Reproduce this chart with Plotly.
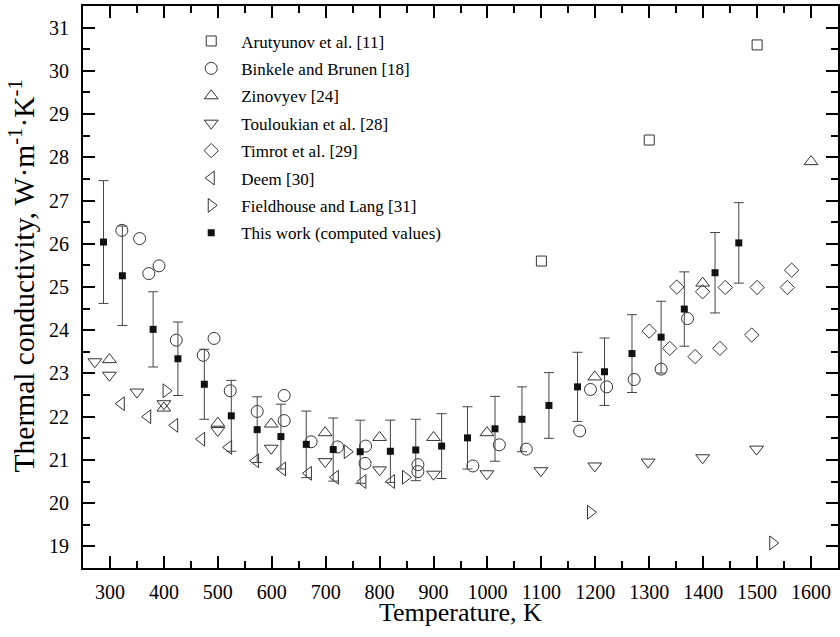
import plotly.graph_objects as go

# ---- data ----
aru_T = [1100, 1300, 1500]
aru_k = [25.6, 28.4, 30.6]

bink_T = [322, 355, 372, 391, 423, 473, 493, 523, 573, 623, 623, 673, 722, 774, 773,
          871, 871, 973, 1022, 1072, 1171, 1191, 1221, 1272, 1322, 1371]
bink_k = [26.31, 26.12, 25.31, 25.49, 23.77, 23.42, 23.81, 22.60, 22.12, 22.49, 21.91,
          21.42, 21.30, 21.32, 20.92, 20.89, 20.73, 20.86, 21.35, 21.25, 21.67, 22.63,
          22.69, 22.86, 23.10, 24.27]

zin_T = [299, 400, 500, 599, 699, 800, 900, 999, 1199, 1399, 1600]
zin_k = [23.32, 22.20, 21.85, 21.83, 21.63, 21.52, 21.52, 21.63, 22.92, 25.09, 27.90]

tou_T = [272, 299, 350, 400, 500, 599, 699, 800, 900, 999, 1099, 1199, 1298, 1399, 1499]
tou_k = [23.27, 22.96, 22.57, 22.30, 21.68, 21.27, 20.96, 20.77, 20.67, 20.68, 20.75,
         20.86, 20.95, 21.05, 21.25]

tim_T = [1300, 1338, 1351, 1385, 1399, 1431, 1441, 1490, 1500, 1556, 1564]
tim_k = [23.98, 23.58, 25.00, 23.39, 24.89, 23.58, 24.99, 23.89, 24.99, 24.99, 25.39]

deem_T = [321, 370, 420, 470, 520, 570, 620, 668, 718, 769, 822]
deem_k = [22.30, 22.00, 21.80, 21.48, 21.29, 20.98, 20.79, 20.69, 20.60, 20.50, 20.50]

field_T = [404, 740, 848, 1191, 1529]
field_k = [22.60, 21.19, 20.60, 19.79, 19.08]

this_T = [288, 323, 380, 426, 475, 525, 573, 617, 664, 714, 764, 820, 867, 915, 963,
          1014, 1064, 1114, 1167, 1217, 1268, 1322, 1365, 1422, 1466]
this_k = [26.04, 25.26, 24.02, 23.34, 22.75, 22.02, 21.70, 21.54, 21.36, 21.24, 21.19,
          21.20, 21.23, 21.32, 21.51, 21.72, 21.94, 22.26, 22.69, 23.04, 23.46, 23.84,
          24.49, 25.33, 26.02]
this_err = [1.42, 1.15, 0.87, 0.85, 0.81, 0.82, 0.76, 0.75, 0.77, 0.73, 0.73, 0.72,
            0.71, 0.75, 0.72, 0.75, 0.75, 0.76, 0.80, 0.78, 0.90, 0.83, 0.86, 0.93, 0.93]

names = ["Arutyunov et al. [11]", "Binkele and Brunen [18]", "Zinovyev [24]",
         "Touloukian et al. [28]", "Timrot et al. [29]", "Deem [30]",
         "Fieldhouse and Lang [31]", "This work (computed values)"]
x_title = "Temperature, K"
y_title = "Thermal conductivity, W·m<sup>-1</sup>·K<sup>-1</sup>"

FONT = "Liberation Serif"
MC = "#333333"

fig = go.Figure()

series = [
    (aru_T, aru_k, "square-open", 10),
    (bink_T, bink_k, "circle-open", 12),
    (zin_T, zin_k, "triangle-up-open", 12),
    (tou_T, tou_k, "triangle-down-open", 12),
    (tim_T, tim_k, "diamond-open", 11),
    (deem_T, deem_k, "triangle-left-open", 12),
    (field_T, field_k, "triangle-right-open", 12),
]
for i, (xs, ys, sym, sz) in enumerate(series):
    fig.add_trace(go.Scatter(
        x=xs, y=ys, mode="markers", name=names[i], legendgroup=f"g{i}",
        marker=dict(symbol=sym, size=sz, color=MC, line=dict(color=MC, width=1)),
    ))

fig.add_trace(go.Scatter(
    x=this_T, y=this_k, mode="markers", name=names[7], legendgroup="g7",
    marker=dict(symbol="square", size=7, color="#111111"),
    error_y=dict(type="data", array=this_err, visible=True,
                 color="#444444", thickness=1, width=5),
))

axis_common = dict(
    showline=True, linecolor="black", linewidth=2, mirror="ticks",
    ticks="inside", ticklen=12, tickwidth=2, tickcolor="black",
    showgrid=False, zeroline=False, automargin=False,
    tickfont=dict(family=FONT, size=20, color="black"),
)

fig.update_xaxes(
    range=[250, 1650], tick0=300, dtick=100,
    minor=dict(ticks="inside", ticklen=7, tickwidth=2, tickcolor="black", dtick=50, tick0=250),
    ticklabelstandoff=5,
    **axis_common,
)
fig.update_yaxes(
    range=[18.5, 31.5], tick0=19, dtick=1,
    minor=dict(ticks="inside", ticklen=7, tickwidth=2, tickcolor="black", dtick=0.5, tick0=18.5),
    ticklabelstandoff=8,
    **axis_common,
)

fig.add_annotation(
    text=x_title, xref="paper", yref="paper", x=0.5, y=-0.08,
    xanchor="center", yanchor="middle", showarrow=False,
    font=dict(family=FONT, size=26, color="black"),
)
fig.add_annotation(
    text=y_title, xref="paper", yref="paper", x=-0.0808, y=0.5205,
    xanchor="center", yanchor="middle", showarrow=False, textangle=-90,
    font=dict(family=FONT, size=29.5, color="black"),
)

fig.update_layout(
    width=840, height=637,
    margin=dict(l=83, r=2, t=6, b=69),
    plot_bgcolor="white", paper_bgcolor="white",
    font=dict(family=FONT, color="black"),
    showlegend=True,
    legend=dict(
        x=0.1301, y=0.969, xanchor="left", yanchor="top",
        bgcolor="rgba(0,0,0,0)", borderwidth=0,
        font=dict(family=FONT, size=17, color="black"),
        tracegroupgap=2.3, itemwidth=50,
    ),
)

fig.write_html(
    "out.html",
    config={"displayModeBar": False},
    post_script="document.body.style.margin='0';document.body.style.padding='0';document.body.style.overflow='hidden';",
)
